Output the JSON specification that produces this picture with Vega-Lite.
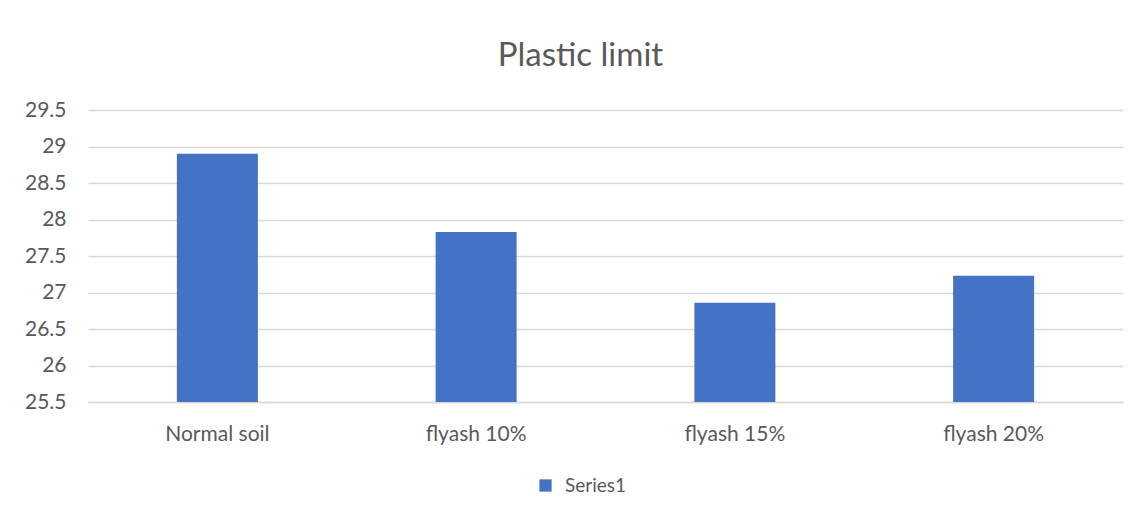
{
  "$schema": "https://vega.github.io/schema/vega-lite/v6.json",
  "autosize": {"type": "none"},
  "width": 1035,
  "height": 292,
  "padding": {"left": 88, "top": 110, "right": 21, "bottom": 115},
  "background": "white",
  "title": {
    "text": "Plastic limit",
    "anchor": "middle",
    "font": "Lato",
    "fontSize": 33,
    "fontWeight": "normal",
    "color": "#595959",
    "offset": 26,
    "dx": -25
  },
  "data": {
    "values": [
      {"category": "Normal soil", "value": 28.9, "series": "Series1"},
      {"category": "flyash 10%", "value": 27.83, "series": "Series1"},
      {"category": "flyash 15%", "value": 26.86, "series": "Series1"},
      {"category": "flyash 20%", "value": 27.23, "series": "Series1"}
    ]
  },
  "mark": {"type": "bar"},
  "encoding": {
    "x": {
      "field": "category",
      "type": "nominal",
      "sort": null,
      "scale": {"paddingInner": 0.687, "paddingOuter": 0.3435},
      "axis": {
        "title": null,
        "labelAngle": 0,
        "labelFont": "Lato",
        "labelFontSize": 21,
        "labelColor": "#595959",
        "labelPadding": 21,
        "ticks": false,
        "domain": true,
        "domainColor": "#D9D9D9",
        "domainWidth": 1.5,
        "grid": false
      }
    },
    "y": {
      "field": "value",
      "type": "quantitative",
      "scale": {"domain": [25.5, 29.5], "zero": false, "nice": false},
      "axis": {
        "title": null,
        "values": [25.5, 26, 26.5, 27, 27.5, 28, 28.5, 29, 29.5],
        "labelExpr": "'' + datum.value",
        "labelFont": "Lato",
        "labelFontSize": 21,
        "labelColor": "#595959",
        "labelPadding": 22,
        "ticks": false,
        "domain": false,
        "grid": true,
        "gridColor": "#D9D9D9",
        "gridWidth": 1.5
      }
    },
    "y2": {"datum": 25.5},
    "color": {
      "field": "series",
      "type": "nominal",
      "scale": {"range": ["#4472C4"]},
      "legend": {
        "title": null,
        "orient": "none",
        "legendX": 448,
        "legendY": 366,
        "direction": "horizontal",
        "symbolType": "square",
        "symbolSize": 150,
        "symbolStrokeWidth": 0,
        "labelFont": "Lato",
        "labelFontSize": 19,
        "labelColor": "#595959",
        "labelOffset": 10
      }
    }
  },
  "config": {"view": {"stroke": null}}
}
